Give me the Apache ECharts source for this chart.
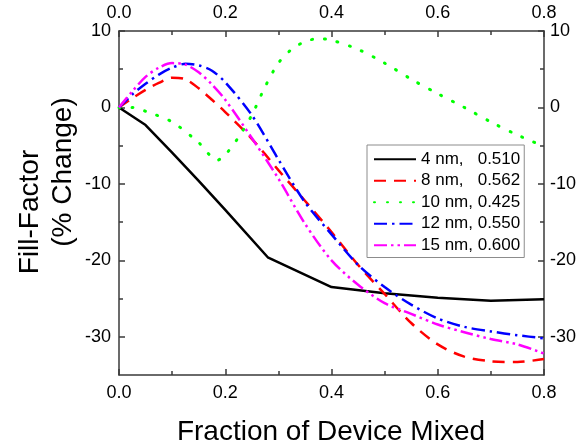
<!DOCTYPE html>
<html>
<head>
<meta charset="utf-8">
<script src="https://cdn.jsdelivr.net/npm/echarts@6/dist/echarts.min.js"></script>
<style>
  html, body { margin: 0; padding: 0; background: #ffffff; }
  #chart { width: 584px; height: 448px; }
</style>
</head>
<body>
<div id="chart"></div>
<script>
// Fill-factor change versus fraction of the device that is mixed
const seriesNames = ['4 nm,   0.510', '8 nm,   0.562', '10 nm, 0.425', '12 nm, 0.550', '15 nm, 0.600'];

const x4nm  = [0, 0.05, 0.1, 0.15, 0.2, 0.28, 0.4, 0.5, 0.6, 0.7, 0.8];
const y4nm  = [0, -2.3, -5.9, -9.6, -13.4, -19.6, -23.5, -24.3, -24.9, -25.3, -25.1];

const xGrid = [0, 0.025, 0.05, 0.075, 0.1, 0.125, 0.15, 0.175, 0.2, 0.25, 0.3, 0.35, 0.4, 0.45, 0.5, 0.55, 0.6, 0.65, 0.7, 0.75, 0.8];
const y8nm  = [0, 1.2, 2.3, 3.2, 3.9, 3.7, 2.5, 1.0, -0.6, -4.1, -8.2, -12.2, -16.3, -20.6, -24.4, -28.2, -31.0, -32.6, -33.2, -33.3, -32.9];
const y12nm = [0, 1.7, 3.1, 4.3, 5.2, 5.7, 5.5, 4.8, 3.3, -1.0, -6.8, -12.4, -16.6, -20.6, -23.5, -25.8, -27.6, -28.7, -29.3, -29.8, -30.2];
const y15nm = [0, 2.1, 4.0, 5.2, 5.8, 5.6, 4.6, 3.0, 1.0, -4.0, -9.3, -15.2, -20.0, -23.2, -25.6, -27.0, -28.4, -29.4, -30.3, -31.0, -32.2];

const x10nm = [0, 0.025, 0.05, 0.1, 0.15, 0.185, 0.2, 0.225, 0.25, 0.275, 0.3, 0.325, 0.35, 0.375, 0.4, 0.45, 0.5, 0.55, 0.6, 0.65, 0.7, 0.75, 0.8];
const y10nm = [0, 0, -0.5, -1.9, -4.6, -6.9, -6.2, -3.9, -1.0, 2.7, 5.8, 7.6, 8.6, 9.0, 8.8, 7.6, 5.8, 3.7, 1.8, 0.0, -1.9, -3.6, -5.1];

const yTicks = [-30, -20, -10, 0, 10];
const yMinorTicks = [-25, -15, -5, 5];

const pair = (xs, ys) => xs.map((x, i) => [x, ys[i]]);

const FONT = 'Liberation Sans, Arial, sans-serif';
const AXIS_COLOR = '#3a3a3a';

const chart = echarts.init(document.getElementById('chart'), null, { renderer: 'canvas' });

const xAxisBase = (position) => ({
  type: 'value',
  position: position,
  min: 0, max: 0.8, interval: 0.2,
  axisLine: { show: true, onZero: false, lineStyle: { color: AXIS_COLOR, width: 1.5 } },
  axisTick: { show: true, inside: true, length: 6, lineStyle: { color: AXIS_COLOR, width: 1.5 } },
  minorTick: { show: true, splitNumber: 2, length: 4, lineStyle: { color: AXIS_COLOR, width: 1.5 } },
  axisLabel: { show: true, margin: 9, color: '#000', fontFamily: FONT, fontSize: 18,
               formatter: v => v.toFixed(1) },
  splitLine: { show: false }
});

const yAxisBase = (position, labels) => ({
  type: 'value',
  position: position,
  min: -35, max: 10,
  axisLine: { show: labels, onZero: false, lineStyle: { color: AXIS_COLOR, width: 1.5 } },
  axisTick: { show: true, inside: true, length: labels ? 6 : 4,
              customValues: labels ? yTicks : yMinorTicks,
              lineStyle: { color: AXIS_COLOR, width: 1.5 } },
  axisLabel: { show: labels, margin: position === 'left' ? 8 : 6, color: '#000',
               fontFamily: FONT, fontSize: 18, customValues: yTicks },
  splitLine: { show: false }
});

const lineSeries = (name, data, color, dash, smooth, cap, width) => ({
  name: name,
  type: 'line',
  data: data,
  symbol: 'none',
  smooth: smooth,
  xAxisIndex: 0,
  yAxisIndex: 0,
  lineStyle: { color: color, width: width || 2.5, type: dash, cap: cap || 'butt' },
  itemStyle: { color: color },
  z: 3
});

chart.setOption({
  animation: false,
  backgroundColor: '#ffffff',
  grid: { left: 119, right: 40, top: 31, bottom: 73, containLabel: false },
  xAxis: [xAxisBase('bottom'), xAxisBase('top')],
  yAxis: [yAxisBase('left', true), yAxisBase('right', true),
          yAxisBase('left', false), yAxisBase('right', false)],
  legend: {
    orient: 'vertical',
    left: 367, top: 145,
    align: 'left',
    itemWidth: 42, itemHeight: 14, itemGap: 1,
    padding: [4, 4, 2, 6],
    borderColor: '#8c8c8c', borderWidth: 1,
    backgroundColor: '#ffffff',
    itemStyle: { opacity: 0 },
    textStyle: { color: '#000', fontFamily: FONT, fontSize: 17, lineHeight: 20.5 },
    data: seriesNames
  },
  series: [
    lineSeries(seriesNames[0], pair(x4nm, y4nm), '#000000', 'solid', false),
    lineSeries(seriesNames[1], pair(xGrid, y8nm), '#ff0000', [12, 8], 0.3),
    lineSeries(seriesNames[2], pair(x10nm, y10nm), '#00ff00', [1, 12], 0.3, 'round', 3),
    lineSeries(seriesNames[3], pair(xGrid, y12nm), '#0000ff', [13, 5, 2.5, 5], 0.3),
    lineSeries(seriesNames[4], pair(xGrid, y15nm), '#ff00ff', [13, 4, 2.5, 4, 2.5, 4], 0.3)
  ],
  graphic: [
    { type: 'text', x: 331, y: 432,
      style: { text: 'Fraction of Device Mixed', fontFamily: FONT, fontSize: 28, fill: '#000',
               align: 'center', verticalAlign: 'middle' } },
    { type: 'text', rotation: Math.PI / 2, x: 30, y: 212,
      style: { text: 'Fill-Factor', fontFamily: FONT, fontSize: 28, fill: '#000', align: 'center', verticalAlign: 'middle' } },
    { type: 'text', rotation: Math.PI / 2, x: 63, y: 172,
      style: { text: '(% Change)', fontFamily: FONT, fontSize: 28, fill: '#000', align: 'center', verticalAlign: 'middle' } }
  ]
});
</script>
</body>
</html>
